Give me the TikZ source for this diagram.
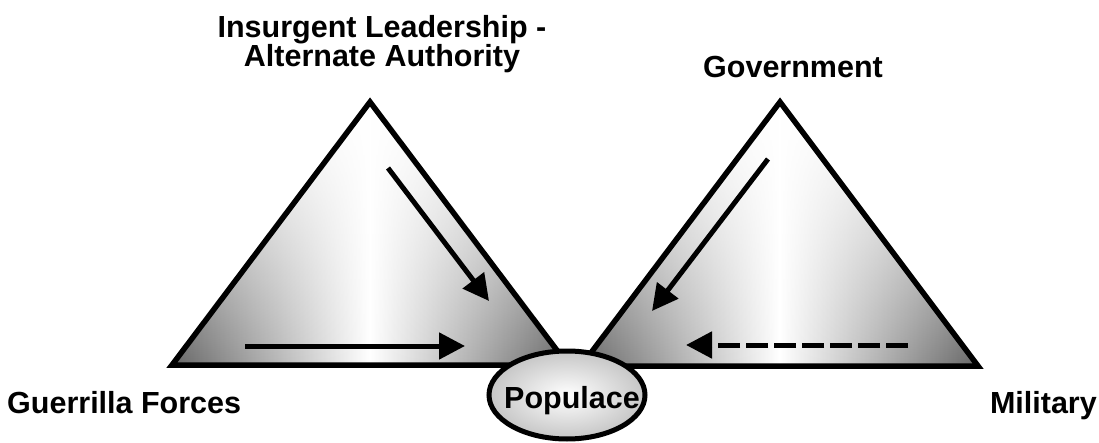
\documentclass[tikz,border=0pt]{standalone}
\usepackage{fontspec}
\setmainfont{Liberation Sans}
\usetikzlibrary{arrows.meta,fadings}

\tikzfading[name=fade top, top color=transparent!0, middle color=transparent!40, bottom color=transparent!100]

\tikzset{
  tri/.style={left color=black!60, right color=black!60, middle color=white},
  flow/.style={line width=5pt, -{Triangle[length=26pt,width=26pt]}},
  lbl/.style={font=\fontsize{30.5}{28}\selectfont\bfseries, inner sep=0pt}
}

\begin{document}
\begin{tikzpicture}[x=1pt,y=-1pt]
    \useasboundingbox (0,0) rectangle (1099,443);

    % the two pyramids
    \coordinate (ins-top) at (370,102);
    \coordinate (ins-left) at (172,365);
    \coordinate (ins-right) at (568,365);
    \coordinate (gov-top) at (780,102);
    \coordinate (gov-left) at (581,366);
    \coordinate (gov-right) at (978,366);

    \foreach \t in {ins,gov}{
        \shade[tri] (\t-top) -- (\t-left) -- (\t-right) -- cycle;
        \fill[white, path fading=fade top] (\t-top) -- (\t-left) -- (\t-right) -- cycle;
        \draw[line width=5.5pt, line join=miter] (\t-top) -- (\t-left) -- (\t-right) -- cycle;
    }

    % arrows inside
    \coordinate (ins-a) at (388,168);
    \coordinate (ins-b) at (489,301);
    \coordinate (gue-a) at (245,346);
    \coordinate (gue-b) at (465,346);
    \coordinate (gov-a) at (768,159);
    \coordinate (gov-b) at (652,311);
    \coordinate (mil-a) at (908,345);
    \coordinate (mil-b) at (686,345);

    \draw[flow] (ins-a) -- (ins-b);
    \draw[flow] (gue-a) -- (gue-b);
    \draw[flow] (gov-a) -- (gov-b);
    \draw[flow, dash pattern=on 22pt off 6pt] (mil-a) -- (mil-b);

    % populace
    \coordinate (pop-c) at (567,395);
    \shade[draw, line width=5pt, inner color=white, outer color=gray!45]
        (pop-c) ellipse [x radius=78, y radius=44];
    \node[lbl, anchor=base] (populace) at (572,408) {Populace};

    \node[lbl, anchor=north, align=center] (insurgent) at (382,15) {Insurgent Leadership -\\Alternate Authority};
    \node[lbl, anchor=base] (government) at (793,78) {Government};
    \node[lbl, anchor=base west] (guerrilla) at (7,413) {Guerrilla Forces};
    \node[lbl, anchor=base east] (military) at (1097,413) {Military};
\end{tikzpicture}
\end{document}
